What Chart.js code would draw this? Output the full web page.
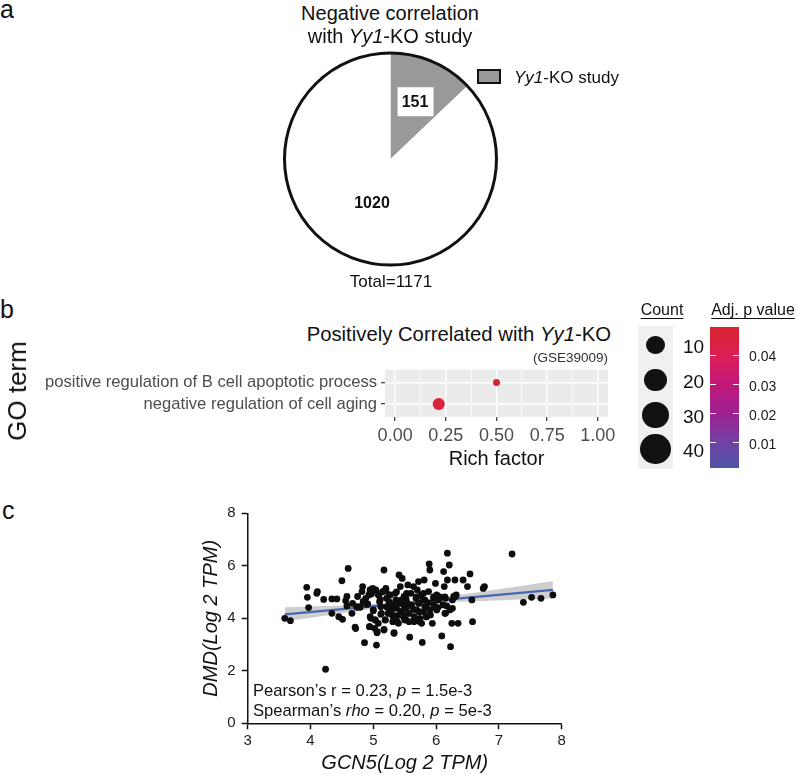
<!DOCTYPE html>
<html>
<head>
<meta charset="utf-8">
<script src="https://cdn.jsdelivr.net/npm/chart.js@4.4.1/dist/chart.umd.min.js"></script>
<style>
  html, body { margin:0; padding:0; background:#fff; }
  body { width:797px; height:775px; position:relative; overflow:hidden; font-family:"Liberation Sans", Arial, sans-serif; color:#111; }
  canvas { position:absolute; }
  .t { position:absolute; white-space:nowrap; line-height:1; }
  .c { transform:translate(-50%,-50%); }
  .r { transform:translate(-100%,-50%); }
  .l { transform:translate(0,-50%); }
  .u { text-decoration:underline; text-underline-offset:3px; }
</style>
</head>
<body>
<canvas id="pie" width="241" height="240" style="left:270px;top:39px;"></canvas>
<canvas id="go" width="590" height="125" style="left:30px;top:350px;"></canvas>
<canvas id="sc" width="400" height="280" style="left:180px;top:495px;"></canvas>

<div class="t l" style="left:0px;top:9px;font-size:25px;">a</div>
<div class="t l" style="left:0px;top:309px;font-size:25px;">b</div>
<div class="t l" style="left:2px;top:510px;font-size:25px;">c</div>

<div class="t c" style="left:390px;top:13px;font-size:20px;">Negative correlation</div>
<div class="t c" style="left:390px;top:36px;font-size:20px;">with <i>Yy1</i>-KO study</div>
<div style="position:absolute;left:477px;top:69px;width:24px;height:15px;box-sizing:border-box;border:2.5px solid #111;background:#999;"></div>
<div class="t l" style="left:514px;top:77px;font-size:17px;"><i>Yy1</i>-KO study</div>
<div class="t c" style="left:391px;top:281px;font-size:17px;">Total=1171</div>

<div class="t r" style="left:611px;top:334px;font-size:20.3px;">Positively Correlated with <i>Yy1</i>-KO</div>
<div class="t r" style="left:608px;top:358px;font-size:13.5px;color:#333;">(GSE39009)</div>
<div class="t c" style="left:17px;top:391px;font-size:26px;transform:translate(-50%,-50%) rotate(-90deg);">GO term</div>

<div class="t c u" style="left:662px;top:310px;font-size:16px;">Count</div>
<div class="t c u" style="left:753px;top:310px;font-size:16px;">Adj. p value</div>
<div id="countBox" style="position:absolute;left:638px;top:326px;width:35px;height:143px;background:#f0f0f0;"></div>
<div id="cbar" style="position:absolute;left:710px;top:327px;width:29px;height:141px;"></div>

<div class="t l" style="left:253px;top:691px;font-size:16.6px;">Pearson’s r = 0.23, <i>p</i> = 1.5e-3</div>
<div class="t l" style="left:253px;top:711px;font-size:16.6px;">Spearman’s <i>rho</i> = 0.20, <i>p</i> = 5e-3</div>

<script>
// ---------------- DATA ----------------
// Panel a
const pieLabels = ['Yy1-KO study', 'Other'];
const pieValues = [151, 1020];

// Panel b
const goTerms = ['positive regulation of B cell apoptotic process', 'negative regulation of cell aging'];
const richFactor = [0.50, 0.215];
const goCount = [1, 3];
const goPadj = [0.047, 0.046];
const richTicks = [0, 0.25, 0.5, 0.75, 1.0];
const richTickLabels = ['0.00', '0.25', '0.50', '0.75', '1.00'];
const richMinor = [0.125, 0.375, 0.625, 0.875];
const countLegend = [10, 20, 30, 40];
const padjTicks = [0.04, 0.03, 0.02, 0.01];
const padjTickLabels = ['0.04', '0.03', '0.02', '0.01'];

// Panel c
const gcn5 = [3.59,3.68,3.94,3.95,3.97,4.10,4.11,4.21,4.24,4.34,4.34,4.42,4.45,4.51,4.50,4.56,4.58,4.60,4.58,4.66,
4.67,4.71,4.72,4.74,4.75,4.79,4.82,4.83,4.86,4.84,4.88,4.91,4.93,4.95,4.97,4.95,4.94,4.96,4.99,5.00,
5.02,5.03,5.04,5.05,5.06,5.08,5.09,5.11,5.12,5.13,5.15,5.17,5.17,5.19,5.20,5.21,5.22,5.24,5.25,5.27,
5.28,5.30,5.31,5.32,5.33,5.35,5.36,5.37,5.38,5.40,5.41,5.43,5.44,5.45,5.46,5.48,5.49,5.51,5.52,5.53,
5.55,5.57,5.58,5.60,5.61,5.64,5.65,5.68,5.69,5.70,5.72,5.73,5.74,5.76,5.77,5.78,5.80,5.81,5.82,5.84,
5.85,5.88,5.89,5.90,5.91,5.94,5.96,5.97,5.99,6.01,6.03,6.09,6.12,6.13,6.14,6.15,6.17,6.18,6.18,6.21,
6.23,6.25,6.26,6.28,6.30,6.32,6.35,6.43,6.50,6.54,6.57,6.58,6.75,6.77,7.21,7.39,7.52,7.67,7.86,
5.00,5.12,5.22,5.24,5.29,5.32,5.35,5.36,5.38,5.44,5.45,5.48,5.49,5.50,5.54,5.56,5.57,5.64,5.65,5.72,
5.73,5.74,5.82,5.84,5.90,5.97,6.01,6.04,6.11,6.15,6.22,4.95,4.97,5.08,5.15,5.20,5.25,5.37,5.52,5.53,
5.69,5.79,5.80,5.88,5.96,6.06,6.14,6.26,6.30,4.74,4.79,4.84,4.90,5.03,5.10,5.17,5.19,5.33,5.06,4.94];
const dmd = [4.00,3.91,5.18,4.80,4.41,4.95,5.02,4.72,2.06,4.19,4.74,4.74,4.06,3.96,5.43,4.67,4.83,5.90,4.47,4.19,
4.57,3.66,3.61,4.44,4.83,4.44,5.02,5.21,3.07,4.63,4.76,4.55,4.89,5.08,4.95,4.06,3.68,4.00,5.14,4.32,
3.62,3.94,5.08,2.98,3.49,3.81,4.89,4.70,4.44,4.19,5.02,5.84,3.58,3.94,5.08,4.76,4.44,4.19,4.63,4.89,
4.32,4.13,3.87,4.51,3.45,4.95,4.70,4.38,4.10,3.81,5.65,5.21,4.57,4.25,5.52,4.06,4.83,4.38,3.94,4.63,
5.27,4.19,3.28,4.95,4.51,5.21,3.87,4.76,4.32,5.08,5.40,4.57,4.00,4.89,3.81,3.08,4.25,5.46,4.70,4.44,
4.06,5.02,6.07,5.84,4.13,3.81,4.76,4.44,5.33,4.89,4.41,3.33,5.78,5.21,4.19,4.76,4.47,6.48,5.46,6.03,
2.92,3.81,4.38,4.83,5.46,4.89,3.81,5.46,5.21,5.69,4.70,3.87,5.14,5.21,6.45,4.61,4.80,4.76,4.89,
4.29,4.15,4.42,4.19,4.32,4.06,4.59,4.44,3.87,4.25,4.70,4.51,4.06,3.94,4.44,4.19,3.87,4.34,4.06,4.57,
4.25,3.87,4.44,4.06,4.32,4.51,4.32,4.70,4.51,4.19,4.32,5.08,4.93,4.89,5.01,5.14,4.89,5.01,4.76,4.95,
4.82,4.70,4.95,4.59,4.82,4.82,4.82,4.70,4.82,4.42,4.42,4.63,4.53,3.94,4.63,3.55,3.94,3.43,3.45,3.68];
const fitX = [3.59, 7.86];
const fitY = [4.15, 5.08];
const bandX = [3.59, 4.2, 4.8, 5.4, 6.0, 6.6, 7.2, 7.86];
const bandLow = [3.88, 4.09, 4.30, 4.47, 4.58, 4.65, 4.70, 4.75];
const bandHigh = [4.42, 4.47, 4.52, 4.62, 4.77, 4.97, 5.18, 5.41];
const scXTicks = [3, 4, 5, 6, 7, 8];
const scYTicks = [0, 2, 4, 6, 8];

// ---------------- SETUP ----------------
Chart.defaults.font.family = '"Liberation Sans", Arial, sans-serif';
Chart.defaults.color = '#222';
Chart.defaults.animation = false;
Chart.defaults.plugins.legend.display = false;
Chart.defaults.plugins.tooltip.enabled = false;

// p-value colour scale
const pStops = [
  [0.0013, [78, 84, 166]],
  [0.010, [112, 66, 164]],
  [0.020, [158, 33, 146]],
  [0.030, [194, 24, 122]],
  [0.040, [220, 30, 84]],
  [0.0498, [216, 38, 46]]
];
const pMin = 0.0013, pMax = 0.0498;
function pColor(p) {
  if (p <= pStops[0][0]) return 'rgb(' + pStops[0][1].join(',') + ')';
  for (let i = 1; i < pStops.length; i++) {
    if (p <= pStops[i][0]) {
      const a = pStops[i-1], b = pStops[i];
      const t = (p - a[0]) / (b[0] - a[0]);
      const c = a[1].map((v, k) => Math.round(v + (b[1][k] - v) * t));
      return 'rgb(' + c.join(',') + ')';
    }
  }
  return 'rgb(' + pStops[pStops.length-1][1].join(',') + ')';
}

// ---------------- PANEL A: pie ----------------
const labelRadius = [0.588, 0.443];
const pieDecor = {
  id: 'pieDecor',
  afterDatasetsDraw(chart) {
    const ctx = chart.ctx;
    const arcs = chart.getDatasetMeta(0).data;
    const a0 = arcs[0];
    ctx.save();
    ctx.beginPath();
    ctx.arc(a0.x, a0.y, a0.outerRadius, 0, Math.PI * 2);
    ctx.lineWidth = 3;
    ctx.strokeStyle = '#111';
    ctx.stroke();
    arcs.forEach((arc, i) => {
      const mid = (arc.startAngle + arc.endAngle) / 2;
      const rr = arc.outerRadius * labelRadius[i];
      const lx = arc.x + Math.cos(mid) * rr;
      const ly = arc.y + Math.sin(mid) * rr;
      if (i === 0) { ctx.fillStyle = '#fff'; ctx.fillRect(lx - 17.5, ly - 14.5, 36, 29); }
      ctx.fillStyle = '#111';
      ctx.font = 'bold 16px "Liberation Sans", Arial, sans-serif';
      ctx.textAlign = 'center';
      ctx.textBaseline = 'middle';
      ctx.fillText(String(pieValues[i]), lx, ly + 1);
    });
    ctx.restore();
  }
};
new Chart(document.getElementById('pie'), {
  type: 'pie',
  data: { labels: pieLabels, datasets: [{ data: pieValues, backgroundColor: ['#999999', '#ffffff'], borderWidth: 0, radius: 106 }] },
  options: { responsive: false, devicePixelRatio: 1, layout: { padding: 0 } },
  plugins: [pieDecor]
});

// ---------------- PANEL B: GO dot plot ----------------
const isMajor = v => richTicks.some(t => Math.abs(t - v) < 1e-9);
const panelBg = {
  id: 'panelBg',
  beforeDraw(chart) {
    const a = chart.chartArea, ctx = chart.ctx;
    ctx.save(); ctx.fillStyle = '#ebebeb'; ctx.fillRect(a.left, a.top, a.right - a.left, a.bottom - a.top); ctx.restore();
  }
};
new Chart(document.getElementById('go'), {
  type: 'bubble',
  data: {
    datasets: [{
      data: goTerms.map((t, i) => ({ x: richFactor[i], y: i + 1, r: 3.5 * Math.sqrt(goCount[i]) })),
      backgroundColor: goPadj.map(pColor),
      borderWidth: 0
    }]
  },
  options: {
    responsive: false, devicePixelRatio: 1,
    layout: { padding: { left: 0, top: 19.6, right: 12, bottom: 0 } },
    scales: {
      x: {
        type: 'linear', min: -0.05, max: 1.05,
        afterBuildTicks: s => { s.ticks = richTicks.concat(richMinor).sort((a, b) => a - b).map(v => ({ value: v })); },
        afterFit: s => { s.height = 58.1; },
        ticks: {
          autoSkip: false, maxRotation: 0, padding: 4, color: '#4d4d4d', font: { size: 18 },
          callback: v => { const i = richTicks.findIndex(t => Math.abs(t - v) < 1e-9); return i >= 0 ? richTickLabels[i] : ''; }
        },
        grid: {
          color: '#ffffff',
          lineWidth: c => (c.tick && isMajor(c.tick.value)) ? 1.4 : 0.7,
          tickColor: c => (c.tick && isMajor(c.tick.value)) ? '#333333' : 'rgba(0,0,0,0)',
          tickLength: 4, tickWidth: 1.2
        },
        border: { display: false },
        title: { display: true, text: 'Rich factor', color: '#111', font: { size: 20 }, padding: { top: 0, bottom: 4 } }
      },
      y: {
        type: 'linear', min: 0.4, max: 2.6, reverse: true,
        afterBuildTicks: s => { s.ticks = goTerms.map((t, i) => ({ value: i + 1 })); },
        afterFit: s => { s.width = 355; },
        ticks: { autoSkip: false, padding: 4, color: '#4d4d4d', font: { size: 16.6 }, callback: v => goTerms[Math.round(v) - 1] || '' },
        grid: { color: '#ffffff', lineWidth: 1.4, tickColor: '#333333', tickLength: 4, tickWidth: 1.2 },
        border: { display: false }
      }
    }
  },
  plugins: [panelBg]
});

// Count legend and colour bar (HTML)
(function () {
  const ys = [345, 380, 415, 449];
  countLegend.forEach((c, i) => {
    const r = 7.3 + c * 0.2;
    const d = document.createElement('div');
    d.style.cssText = 'position:absolute;border-radius:50%;background:#111;left:' + (655.5 - r) + 'px;top:' + (ys[i] - r) + 'px;width:' + (2*r) + 'px;height:' + (2*r) + 'px;';
    document.body.appendChild(d);
    const l = document.createElement('div');
    l.className = 't l';
    l.style.cssText = 'left:683px;top:' + (ys[i] + 1) + 'px;font-size:19px;';
    l.textContent = String(c);
    document.body.appendChild(l);
  });
  const bar = document.getElementById('cbar');
  const top = 327, h = 141, pTop = pMax, pBot = pMin;
  const stops = [];
  for (let k = 0; k <= 20; k++) {
    const p = pTop - (pTop - pBot) * k / 20;
    stops.push(pColor(p) + ' ' + (k * 5) + '%');
  }
  bar.style.background = 'linear-gradient(to bottom,' + stops.join(',') + ')';
  padjTicks.forEach((p, i) => {
    const y = top + (pTop - p) / (pTop - pBot) * h;
    ['710', '733'].forEach(x => {
      const tk = document.createElement('div');
      tk.style.cssText = 'position:absolute;left:' + x + 'px;top:' + (y - 0.5) + 'px;width:6px;height:1px;background:#fff;';
      document.body.appendChild(tk);
    });
    const l = document.createElement('div');
    l.className = 't l';
    l.style.cssText = 'left:749px;top:' + (y + 1) + 'px;font-size:14px;color:#222;';
    l.textContent = padjTickLabels[i];
    document.body.appendChild(l);
  });
})();

// ---------------- PANEL C: scatter ----------------
new Chart(document.getElementById('sc'), {
  type: 'scatter',
  data: {
    datasets: [
      { data: gcn5.map((x, i) => ({ x: x, y: dmd[i] })), backgroundColor: '#0d0d0d', borderWidth: 0, pointRadius: 3.4 },
      { data: fitX.map((x, i) => ({ x: x, y: fitY[i] })), showLine: true, borderColor: '#4767b2', borderWidth: 2.2, pointRadius: 0, fill: false },
      { data: bandX.map((x, i) => ({ x: x, y: bandLow[i] })), showLine: true, borderWidth: 0, borderColor: 'rgba(0,0,0,0)', pointRadius: 0, tension: 0.4, fill: false },
      { data: bandX.map((x, i) => ({ x: x, y: bandHigh[i] })), showLine: true, borderWidth: 0, borderColor: 'rgba(0,0,0,0)', pointRadius: 0, tension: 0.4, fill: '-1', backgroundColor: 'rgba(165,165,165,0.55)' }
    ]
  },
  options: {
    responsive: false, devicePixelRatio: 1,
    layout: { padding: { left: 15.7, top: 18.3, right: 18.3, bottom: 0 } },
    scales: {
      x: {
        type: 'linear', min: 3, max: 8,
        afterBuildTicks: s => { s.ticks = scXTicks.map(v => ({ value: v })); },
        afterFit: s => { s.height = 51.7; },
        ticks: { autoSkip: false, maxRotation: 0, padding: 3, color: '#222', font: { size: 15 } },
        grid: { drawOnChartArea: false, color: '#111', tickColor: '#111', tickLength: 6, tickWidth: 1.5 },
        border: { display: true, color: '#111', width: 1.5 },
        title: { display: true, text: 'GCN5(Log 2 TPM)', color: '#111', font: { size: 20, style: 'italic' }, padding: { top: 0, bottom: 0 } }
      },
      y: {
        type: 'linear', min: 0, max: 8,
        afterBuildTicks: s => { s.ticks = scYTicks.map(v => ({ value: v })); },
        afterFit: s => { s.width = 52; },
        ticks: { autoSkip: false, padding: 6, color: '#222', font: { size: 15 } },
        grid: { drawOnChartArea: false, color: '#111', tickColor: '#111', tickLength: 6, tickWidth: 1.5 },
        border: { display: true, color: '#111', width: 1.5 },
        title: { display: true, text: 'DMD(Log 2 TPM)', color: '#111', font: { size: 20, style: 'italic' }, padding: { top: 4, bottom: 0 } }
      }
    }
  }
});
</script>
</body>
</html>
